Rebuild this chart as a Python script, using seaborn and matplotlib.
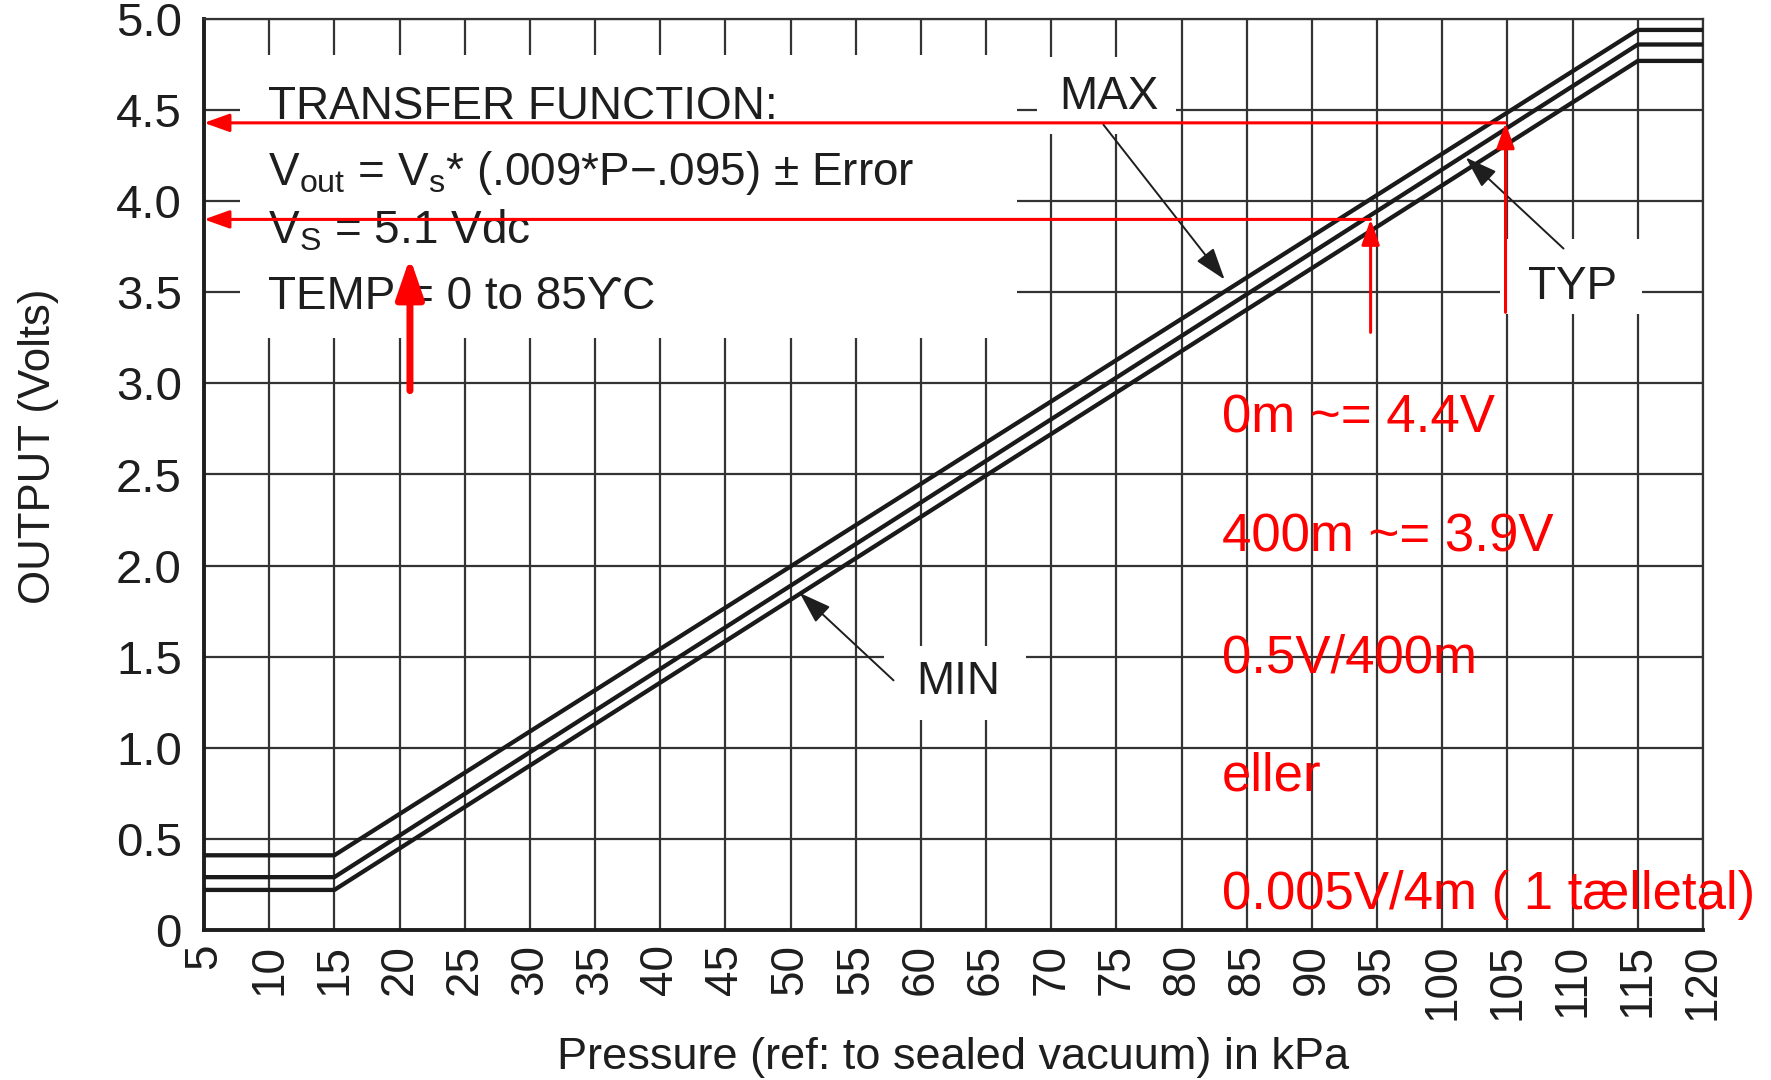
import matplotlib
matplotlib.use("Agg")
import matplotlib.pyplot as plt
import numpy as np
import pandas as pd
import seaborn as sns
from matplotlib import font_manager
from matplotlib.patches import Rectangle

# values (kPa -> volts)
pressure_kpa = [5, 15, 115, 120]
output_max = [0.41, 0.41, 4.94, 4.94]
output_typ = [0.29, 0.29, 4.86, 4.86]
output_min = [0.22, 0.22, 4.77, 4.77]

x_ticks = list(range(5, 121, 5))
y_ticks = [0, 0.5, 1.0, 1.5, 2.0, 2.5, 3.0, 3.5, 4.0, 4.5, 5.0]
y_tick_labels = ["0", "0.5", "1.0", "1.5", "2.0", "2.5", "3.0", "3.5", "4.0", "4.5", "5.0"]

# red hand-drawn markings: (pressure, voltage) read-outs
readout_pressure = [104.85, 94.5]
readout_volts = [4.43, 3.90]
readout_start = [3.39, 3.28]

transfer_lines = [
    "TRANSFER FUNCTION:",
    r"V$_\mathregular{out}$ = V$_\mathregular{s}$* (.009*P$-$.095) ± Error",
    r"V$_\mathregular{S}$ = 5.1 Vdc",
    "TEMP = 0 to 85ϒC",
]
red_notes = ["0m ~= 4.4V", "400m ~= 3.9V", "0.5V/400m", "eller", "0.005V/4m ( 1 tælletal)"]

sns.set_theme(style="white")
installed = {f.name for f in font_manager.fontManager.ttflist}
narrow = "Liberation Sans Narrow" if "Liberation Sans Narrow" in installed else "Liberation Sans"
plt.rcParams["font.family"] = ["Liberation Sans", "DejaVu Sans"]
plt.rcParams["mathtext.fontset"] = "custom"
plt.rcParams["mathtext.rm"] = narrow
INK = "#1e1e1e"
label_size = 33

curves = pd.DataFrame({
    "pressure": pressure_kpa * 3,
    "output": output_max + output_typ + output_min,
    "curve": ["MAX"] * 4 + ["TYP"] * 4 + ["MIN"] * 4,
})

fig = plt.figure(figsize=(17.71, 10.80), dpi=100)
ax = fig.add_axes([204 / 1771, 1 - 930 / 1080, 1499 / 1771, 911 / 1080])

ax.set_axisbelow(True)
ax.grid(True, color="#333333", linewidth=1.6)
ax.set_xlim(5, 120)
ax.set_ylim(0, 5)
ax.set_xticks(x_ticks)
ax.set_xticklabels([str(v) for v in x_ticks], rotation=90, fontsize=33, color=INK)
ax.set_yticks(y_ticks)
ax.set_yticklabels(y_tick_labels, fontsize=34, color=INK)
ax.tick_params(axis="both", length=0)
ax.tick_params(axis="x", pad=10)
ax.tick_params(axis="y", pad=16)
for side in ["left", "bottom"]:
    ax.spines[side].set_linewidth(2.8)
    ax.spines[side].set_color(INK)
for side in ["top", "right"]:
    ax.spines[side].set_linewidth(1.6)
    ax.spines[side].set_color("#333333")

# white label areas that break the grid, as on the datasheet
for x0, x1, y0, y1 in [(7.8, 67.4, 3.25, 4.8), (68.9, 79.6, 4.37, 4.79),
                       (104.4, 115.3, 3.38, 3.79), (57.2, 68.1, 1.15, 1.56)]:
    ax.add_patch(Rectangle((x0, y0), x1 - x0, y1 - y0, facecolor="white",
                           edgecolor="none", zorder=1))

sns.lineplot(data=curves, x="pressure", y="output", hue="curve",
             palette={"MAX": "#1a1a1a", "TYP": "#1a1a1a", "MIN": "#1a1a1a"},
             estimator=None, sort=False, legend=False, linewidth=3.1, ax=ax, zorder=3)

ax.set_xlabel("Pressure (ref: to sealed vacuum) in kPa", fontsize=32.5,
              family=[narrow, "DejaVu Sans"], color=INK, labelpad=12)
ax.set_ylabel("OUTPUT (Volts)", fontsize=31.5, family=[narrow, "DejaVu Sans"],
              color=INK)
ax.yaxis.set_label_coords(-0.097, 0.531)

for text, yv in zip(transfer_lines, [4.45, 4.09, 3.77, 3.41]):
    ax.text(9.9, yv, text, fontsize=label_size, family=[narrow, "DejaVu Sans"],
            color=INK, va="baseline", ha="left", zorder=4)

thin = dict(arrowstyle="-|>,head_length=0.9,head_width=0.3", color=INK, lw=1.4,
            shrinkA=0, shrinkB=0, mutation_scale=22)
for label, text_xy, tail, head in [("MAX", (74.4, 4.57), (74.0, 4.42), (83.3, 3.57)),
                                   ("TYP", (110.0, 3.53), (109.3, 3.74), (101.8, 4.24)),
                                   ("MIN", (62.9, 1.36), (57.9, 1.37), (50.7, 1.85))]:
    ax.text(*text_xy, label, fontsize=label_size, family=[narrow, "DejaVu Sans"],
            color=INK, ha="center", va="center", zorder=4)
    ax.annotate("", xy=head, xytext=tail, arrowprops=thin, zorder=4)

red = dict(arrowstyle="-|>,head_length=0.7,head_width=0.25", color="#ff0000", lw=2.2,
           shrinkA=0, shrinkB=0, mutation_scale=22)
for px, vv, v0 in zip(readout_pressure, readout_volts, readout_start):
    ax.annotate("", xy=(5, vv), xytext=(px, vv), arrowprops=red, zorder=5,
                annotation_clip=False)
    ax.annotate("", xy=(px, vv), xytext=(px, v0), arrowprops=red, zorder=5)

ax.annotate("", xy=(20.8, 3.69), xytext=(20.8, 2.96), zorder=5,
            arrowprops=dict(arrowstyle="-|>,head_length=1.1,head_width=0.38",
                            color="#ff0000", lw=5, shrinkA=0, shrinkB=0,
                            mutation_scale=22))

for text, yv in zip(red_notes, [2.73, 2.075, 1.416, 0.768, 0.115]):
    ax.text(83.1, yv, text, fontsize=38, color="#ff0000", va="baseline",
            ha="left", zorder=5, clip_on=False)

fig.savefig("out.png", dpi=100, facecolor="white")
